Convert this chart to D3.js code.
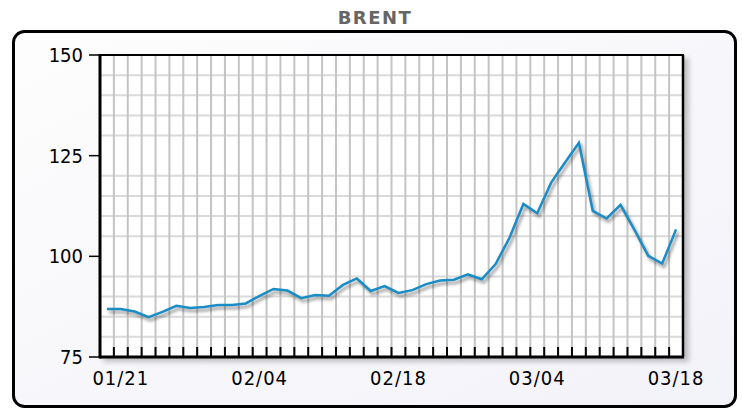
<!DOCTYPE html>
<html><head><meta charset="utf-8">
<script src="https://cdn.jsdelivr.net/npm/d3@7"></script>
<style>html,body{margin:0;padding:0;background:#fff;}svg{display:block;}</style>
</head><body>
<svg id="chart" width="742" height="410"></svg>
<script>
const title = "BRENT";
const dates = ["01/20","01/21","01/24","01/25","01/26","01/27","01/28","01/31","02/01","02/02","02/03","02/04",
  "02/07","02/08","02/09","02/10","02/11","02/14","02/15","02/16","02/17","02/18",
  "02/21","02/22","02/23","02/24","02/25","02/28","03/01","03/02","03/03","03/04",
  "03/07","03/08","03/09","03/10","03/11","03/14","03/15","03/16","03/17","03/18"];
const values = [86.9,86.9,86.3,84.9,86.2,87.7,87.2,87.4,87.9,87.9,88.3,90.2,
  91.9,91.5,89.6,90.4,90.2,92.9,94.5,91.4,92.6,90.9,
  91.6,93.1,94.0,94.2,95.5,94.3,98.1,104.6,113.0,110.7,
  118.3,123.3,128.2,111.3,109.4,112.8,106.6,100.1,98.2,106.7];
const xTickLabels = ["01/21","02/04","02/18","03/04","03/18"];
const yTicks = [75,100,125,150];
const yGrid = [80,85,90,95,105,110,115,120,130,135,140,145];

const svg = d3.select("#chart");
const defs = svg.append("defs");
const grad = defs.append("linearGradient").attr("id","panelGrad").attr("x1","0").attr("y1","0").attr("x2","1").attr("y2","1");
grad.append("stop").attr("offset","0").attr("stop-color","#fdfdfd");
grad.append("stop").attr("offset","1").attr("stop-color","#f2f2f9");
const blur = defs.append("filter").attr("id","blur").attr("x","-10%").attr("y","-10%").attr("width","120%").attr("height","120%");
blur.append("feGaussianBlur").attr("stdDeviation","1.5");
const blur2 = defs.append("filter").attr("id","blur2").attr("x","-10%").attr("y","-10%").attr("width","130%").attr("height","130%");
blur2.append("feGaussianBlur").attr("stdDeviation","2.5");

// panel
svg.append("rect").attr("x",13.5).attr("y",31.5).attr("width",722).attr("height",375)
  .attr("rx",11).attr("ry",11).attr("fill","url(#panelGrad)").attr("stroke","#000").attr("stroke-width",3);

svg.append("text").attr("x",375).attr("y",24).attr("text-anchor","middle")
  .attr("font-family","'DejaVu Sans', sans-serif").attr("font-weight","bold")
  .attr("font-size",18).attr("letter-spacing","1.5px").attr("fill","#666").text(title);

const L = 100, R = 683, T = 55, B = 357;
const x = d3.scaleBand().domain(d3.range(dates.length)).range([L,R]).padding(0);
const y = d3.scaleLinear().domain([75,150]).range([B,T]);
const bw = x.bandwidth();

// plot shadow
svg.append("rect").attr("x",L+3).attr("y",T+3).attr("width",R-L+3).attr("height",B-T+2)
  .attr("fill","rgba(0,0,0,0.22)").attr("filter","url(#blur2)");
svg.append("rect").attr("x",L).attr("y",T).attr("width",R-L).attr("height",B-T).attr("fill","#fff");

// horizontal grid
svg.append("g").selectAll("line").data(yGrid).join("line")
  .attr("x1",L).attr("x2",R).attr("y1",d=>y(d)).attr("y2",d=>y(d))
  .attr("stroke","#dadada").attr("stroke-width",2);
// vertical grid
svg.append("g").selectAll("line").data(d3.range(1,dates.length)).join("line")
  .attr("x1",d=>x(d)).attr("x2",d=>x(d)).attr("y1",T).attr("y2",B)
  .attr("stroke","#c4c4c4").attr("stroke-width",2);
// bottom ticks (inside)
svg.append("g").selectAll("line").data(d3.range(1,dates.length)).join("line")
  .attr("x1",d=>x(d)).attr("x2",d=>x(d)).attr("y1",B-10).attr("y2",B)
  .attr("stroke","#000").attr("stroke-width",2);

// line
const line = d3.line().x((d,i)=>x(i)+bw/2).y(d=>y(d));
svg.append("path").datum(values).attr("d",line).attr("fill","none")
  .attr("stroke","rgba(0,0,0,0.35)").attr("stroke-width",3).attr("transform","translate(2,3)")
  .attr("filter","url(#blur)");
svg.append("path").datum(values).attr("d",line).attr("fill","none")
  .attr("stroke","#1a8cc6").attr("stroke-width",2.5).attr("stroke-linejoin","miter");

// frame
svg.append("line").attr("x1",L).attr("x2",R+1).attr("y1",T).attr("y2",T).attr("stroke","#000").attr("stroke-width",2);
svg.append("line").attr("x1",R).attr("x2",R).attr("y1",T).attr("y2",B).attr("stroke","#000").attr("stroke-width",2.5);
svg.append("line").attr("x1",L).attr("x2",R+1).attr("y1",B).attr("y2",B).attr("stroke","#000").attr("stroke-width",3);
svg.append("line").attr("x1",L).attr("x2",L).attr("y1",T-1).attr("y2",B+1.5).attr("stroke","#000").attr("stroke-width",3);

// y axis ticks + labels
const yAx = svg.append("g");
yAx.selectAll("line").data(yTicks).join("line")
  .attr("x1",89).attr("x2",L).attr("y1",d=>y(d)).attr("y2",d=>y(d)).attr("stroke","#000").attr("stroke-width",1.5);
yAx.selectAll("text").data(yTicks).join("text")
  .attr("x",83).attr("y",d=>y(d)+7).attr("text-anchor","end")
  .attr("font-family","'DejaVu Sans Condensed', 'DejaVu Sans', sans-serif").attr("font-size",20)
  .attr("fill","#000").text(d=>d);

// x labels
svg.append("g").selectAll("text").data(xTickLabels).join("text")
  .attr("x",d=>x(dates.indexOf(d))+bw/2).attr("y",385).attr("text-anchor","middle")
  .attr("font-family","'DejaVu Sans Condensed', 'DejaVu Sans', sans-serif").attr("font-size",20)
  .attr("letter-spacing","1px").attr("fill","#000").text(d=>d);
</script>
</body></html>
